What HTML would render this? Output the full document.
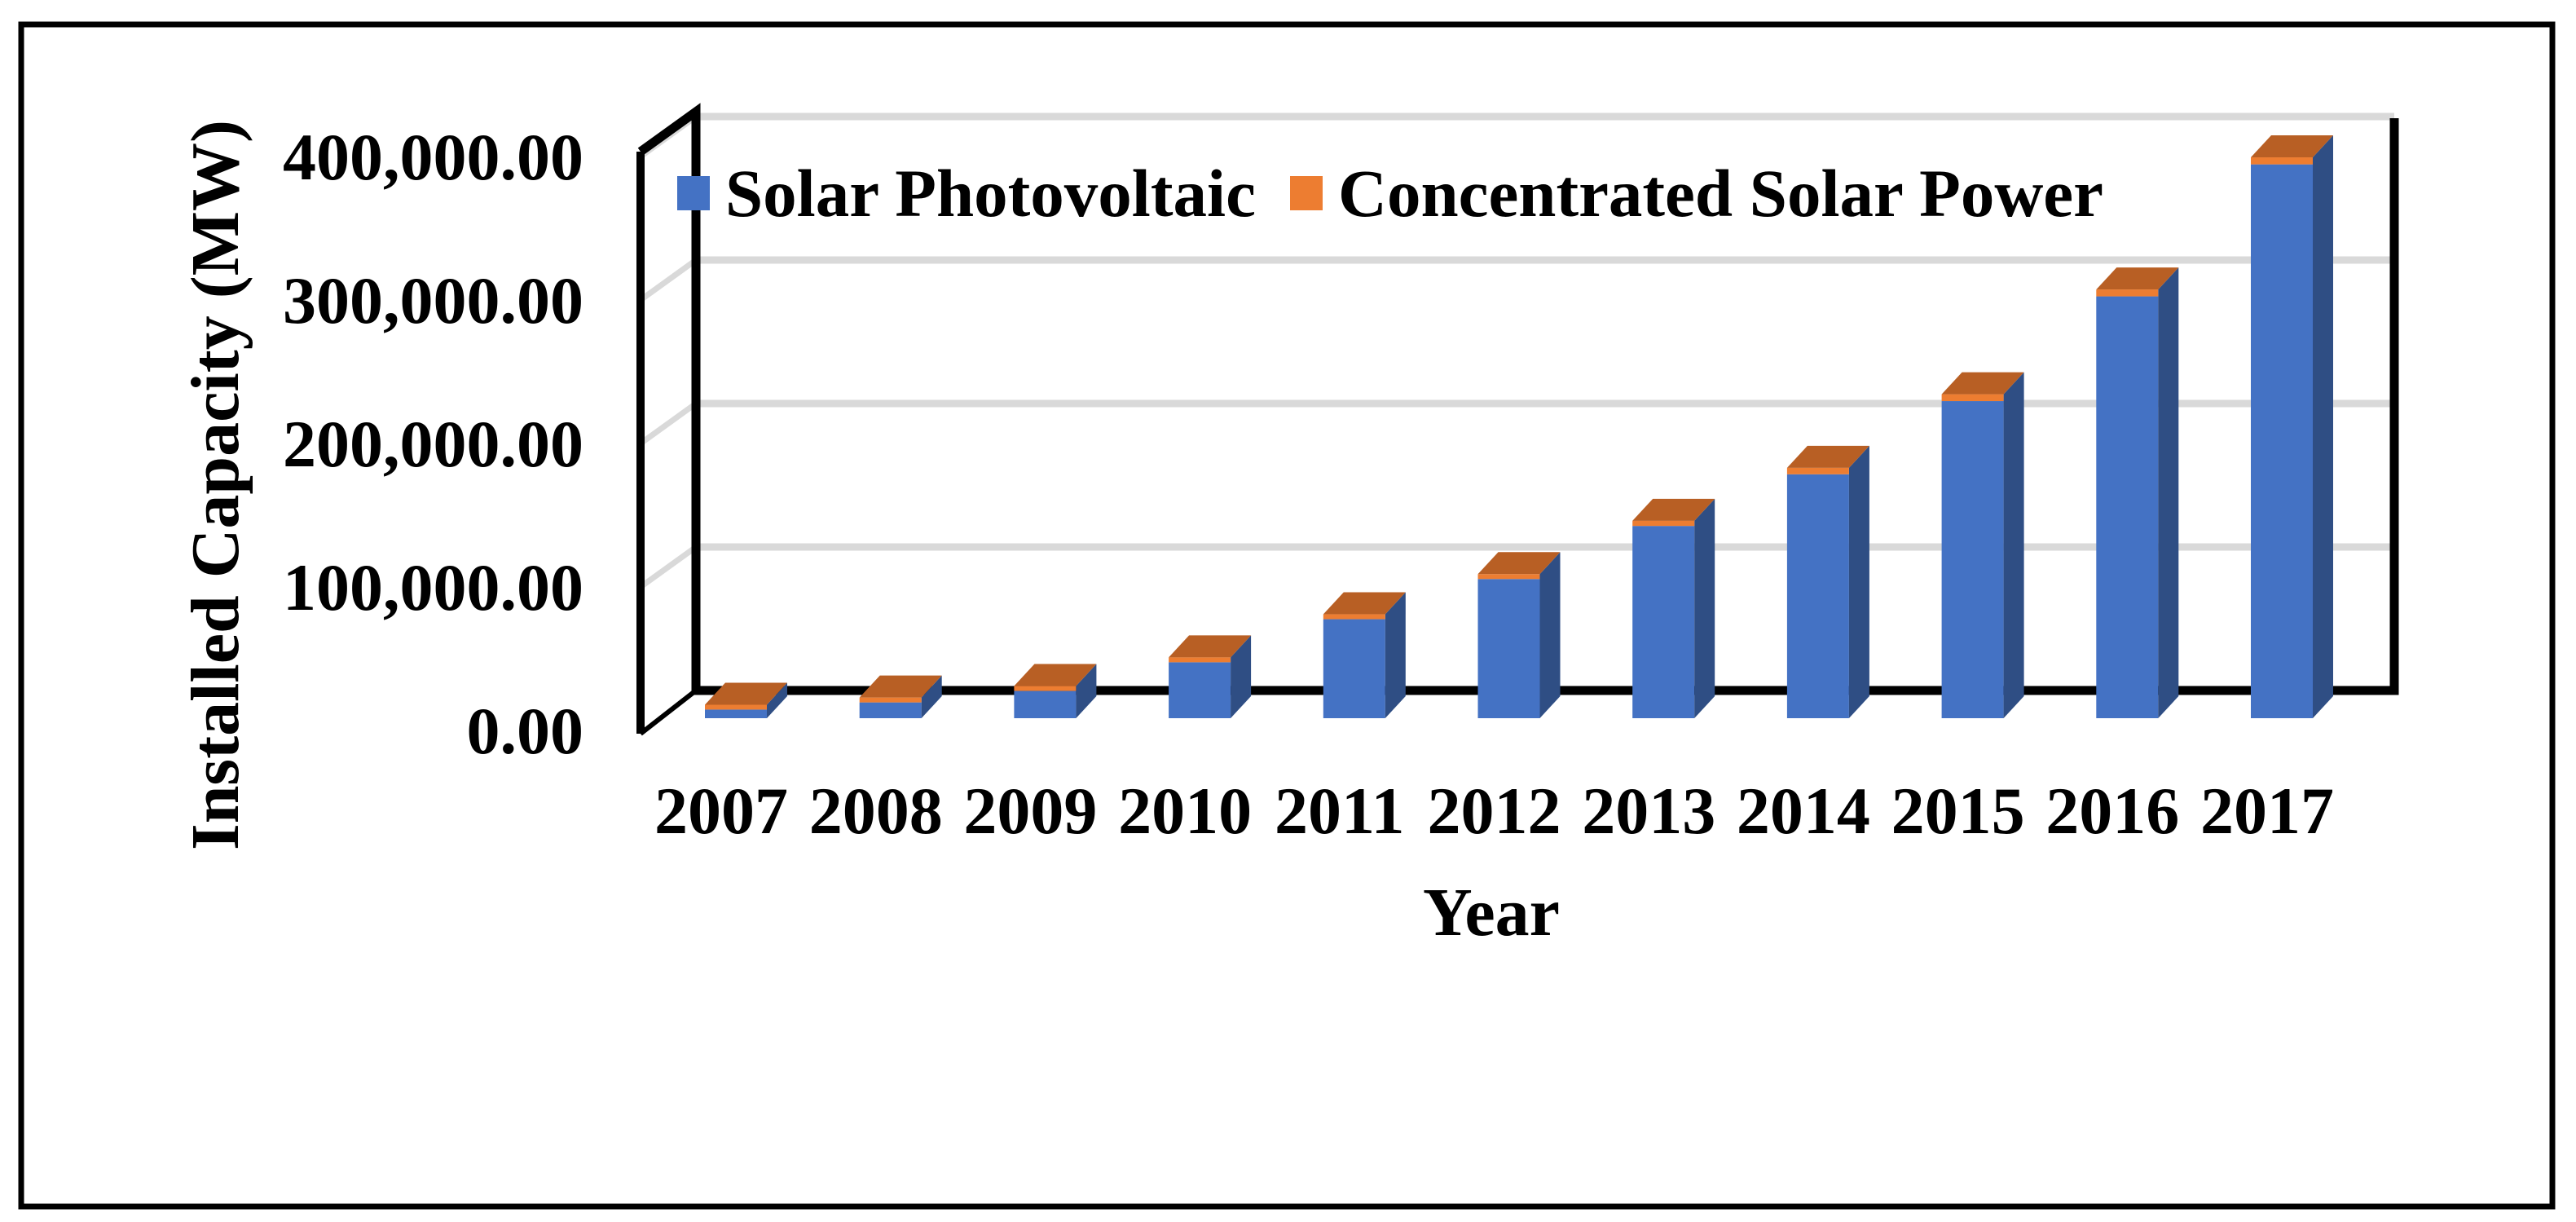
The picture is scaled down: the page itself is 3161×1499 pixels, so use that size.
<!DOCTYPE html>
<html><head><meta charset="utf-8"><style>
html,body{margin:0;padding:0;background:#fff;width:3161px;height:1499px;overflow:hidden}
svg text{font-family:"Liberation Serif",serif;font-weight:bold;fill:#000}
</style></head><body>
<svg id="chart" width="3161" height="1499" viewBox="0 0 3161 1499" xmlns="http://www.w3.org/2000/svg">
<rect x="26" y="30" width="3106" height="1450" fill="none" stroke="#000" stroke-width="7"/>
<g id="walls"></g>
<g id="bars"></g>
<g id="ylabels"></g>
<g id="xlabels"></g>
<text transform="translate(292,595) rotate(-90)" text-anchor="middle" font-size="84">Installed Capacity (MW)</text>
<text x="1830" y="1147" text-anchor="middle" font-size="84">Year</text>
<g>
<rect x="831" y="216" width="40" height="42" fill="#4472C4"/>
<text x="890" y="265" font-size="83">Solar Photovoltaic</text>
<rect x="1583" y="216" width="40" height="42" fill="#ED7D31"/>
<text x="1642" y="265" font-size="83">Concentrated Solar Power</text>
</g>
</svg>
<script>
const years=["2007","2008","2009","2010","2011","2012","2013","2014","2015","2016","2017"];
const pvValues=[6,11,19,39,69,97,134,170,221,294,386];
const cspValues=[0.6,0.9,1.3,1.3,1.7,2.6,3.6,4.5,4.8,4.8,4.9];
const yTicks=[0,100,200,300,400];
const yTickLabels=["0.00","100,000.00","200,000.00","300,000.00","400,000.00"];
const NS="http://www.w3.org/2000/svg";
const backZero=847, frontZero=881, pxPerK=1.76;
const x0=903, step=189.7, bw=76, ddx=25, ddy=27;
const wallL=854, wallR=2938;
function yBack(v){return backZero-v*pxPerK;}
function yFront(v){return frontZero-v*pxPerK;}
function xc(i){return x0+i*step;}
function mk(tag,attrs,parent){const e=document.createElementNS(NS,tag);for(const k in attrs)e.setAttribute(k,attrs[k]);parent.appendChild(e);return e;}
const walls=document.getElementById('walls');
yTicks.forEach((t,i)=>{
  if(i===0)return;
  const y=yBack(t);
  const g=mk('line',{x1:wallL,y1:y,x2:wallR,y2:y,stroke:'#d9d9d9','stroke-width':9},walls);
  
  
  const s=mk('line',{x1:786,y1:y+49,x2:wallL,y2:y,stroke:'#d9d9d9','stroke-width':7},walls);
  
  
});
const topY=yBack(400)-6;
let e;
e=mk('polyline',{points:`786,${topY+49} ${wallL},${topY} ${wallL},${backZero} ${wallR},${backZero} ${wallR},${topY+8}`,fill:'none',stroke:'#000','stroke-width':11},walls);


e=mk('line',{x1:786,y1:topY+49,x2:786,y2:900,stroke:'#000','stroke-width':10},walls);


e=mk('line',{x1:786,y1:900,x2:wallL,y2:backZero,stroke:'#000','stroke-width':6},walls);


const bars=document.getElementById('bars');
years.forEach((yr,i)=>{
  const l=xc(i)-bw/2, r=l+bw;
  const pvTop=yFront(pvValues[i]);
  const tot=yFront(pvValues[i]+cspValues[i]);
  const tt=Math.min(tot,pvTop-6);
  let p=mk('rect',{x:l,y:pvTop,width:bw,height:frontZero-pvTop,fill:'#4472C4'},bars);
  
  
  p=mk('polygon',{points:`${r},${frontZero} ${r+ddx},${frontZero-ddy} ${r+ddx},${tt-ddy} ${r},${tt}`,fill:'#2F4E84'},bars);
  
  
  p=mk('rect',{x:l,y:tt,width:bw,height:pvTop-tt,fill:'#ED7D31'},bars);
  
  
  p=mk('polygon',{points:`${l},${tt} ${l+ddx},${tt-ddy} ${r+ddx},${tt-ddy} ${r},${tt}`,fill:'#B85F24'},bars);
  
  
});
const yl=document.getElementById('ylabels');
yTicks.forEach((t,i)=>{
  const tx=mk('text',{x:716,y:yBack(t)+77,'text-anchor':'end','font-size':82},yl);
  tx.textContent=yTickLabels[i];
  
  
});
const xl=document.getElementById('xlabels');
years.forEach((yr,i)=>{
  const tx=mk('text',{x:xc(i)-18,y:1022,'text-anchor':'middle','font-size':82},xl);
  tx.textContent=yr;
  
  
});
</script>
</body></html>
